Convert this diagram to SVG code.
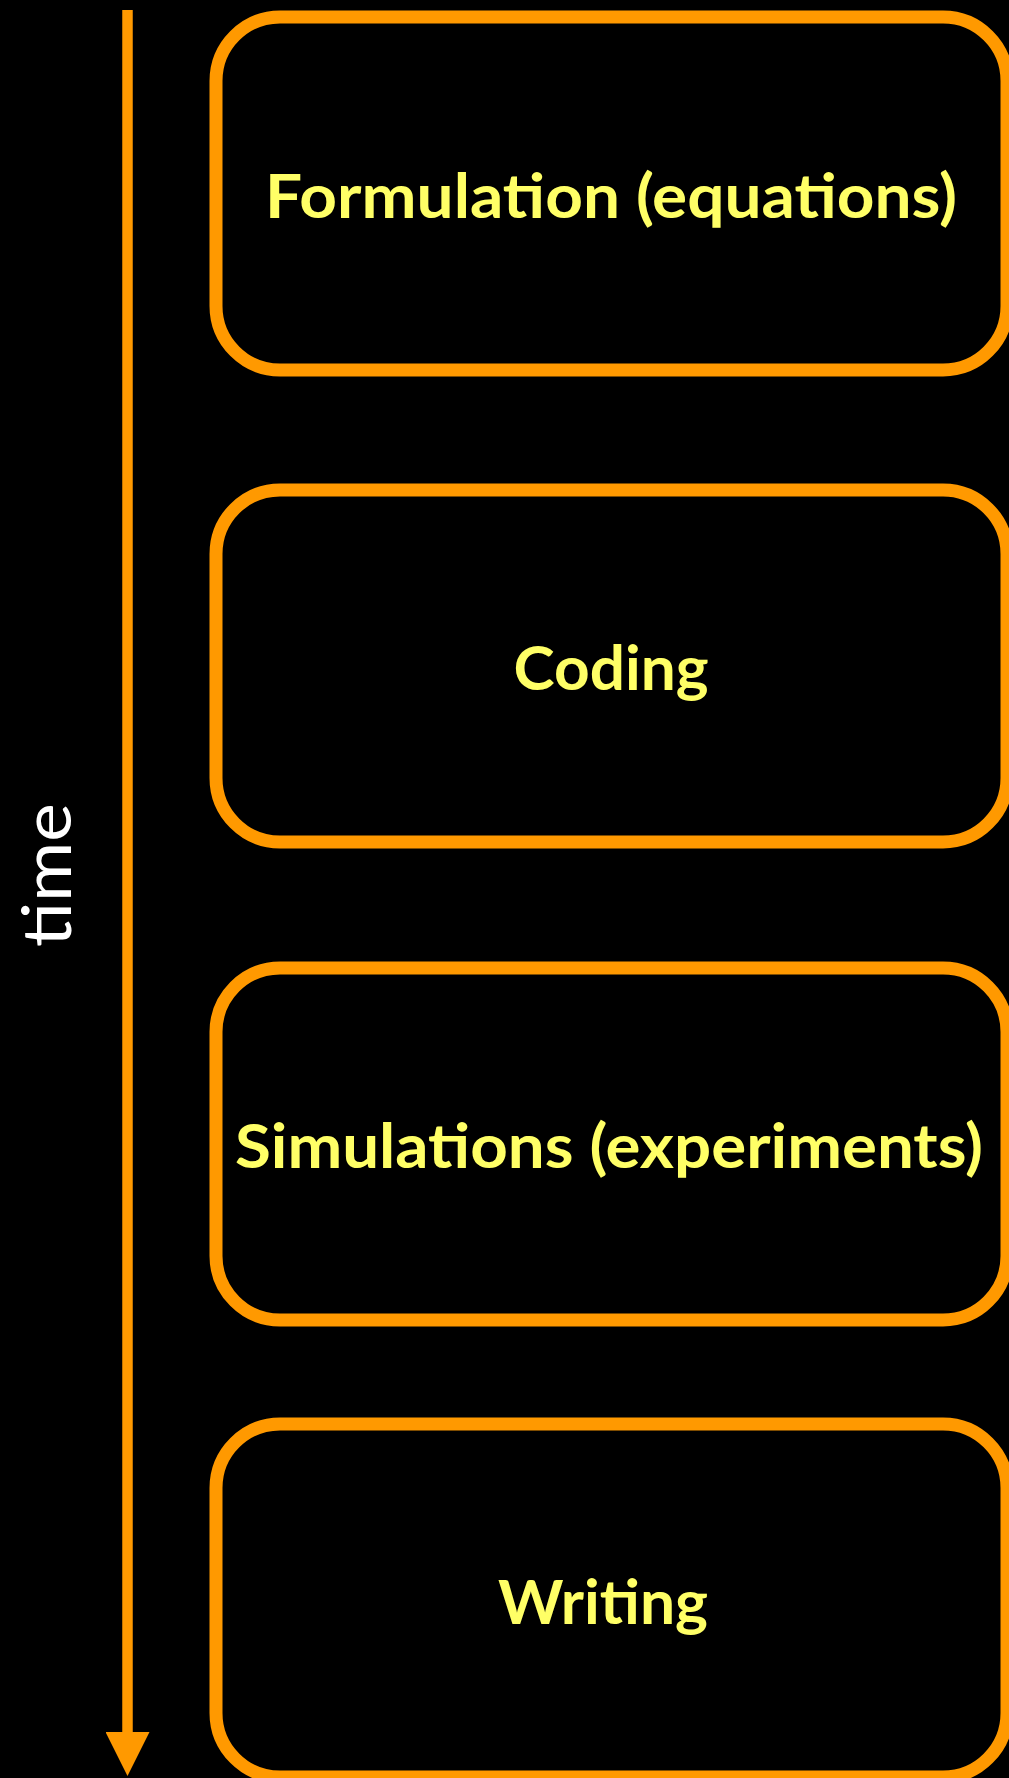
<svg xmlns="http://www.w3.org/2000/svg" width="1009" height="1778" viewBox="0 0 1009 1778">
  <defs>
    <style>
      .stage { fill: #000000; stroke: #FF9900; stroke-width: 13; }
      .label { font-family: Lato, "Liberation Sans", sans-serif; font-weight: bold; font-size: 62px; fill: #FFFF66; text-anchor: middle; }
      .axis { stroke: #FF9900; stroke-width: 10.5; fill: none; }
      .axis-label { font-family: Lato, "Liberation Sans", sans-serif; font-size: 68px; fill: #FFFFFF; text-anchor: middle; }
    </style>
    <marker id="arrowhead" markerUnits="userSpaceOnUse" viewBox="0 0 44 44" markerWidth="44" markerHeight="44" refX="0" refY="22" orient="auto">
      <path d="M0,0 L44,22 L0,44 Z" fill="#FF9900"/>
    </marker>
  </defs>

  <!-- background -->
  <rect x="0" y="0" width="1009" height="1778" fill="#000000"/>

  <!-- time axis -->
  <g id="connectors">
    <line class="axis" x1="127.5" y1="10" x2="127.5" y2="1732" marker-end="url(#arrowhead)"/>
    <text class="axis-label" transform="translate(71,875) rotate(-90)" textLength="144" lengthAdjust="spacingAndGlyphs">time</text>
  </g>

  <!-- stages -->
  <g id="formulation">
    <rect class="stage" x="216" y="17" width="791" height="353" rx="64" ry="64"/>
    <text class="label" x="611" y="218" textLength="692" lengthAdjust="spacingAndGlyphs">Formulation (equations)</text>
  </g>

  <g id="coding">
    <rect class="stage" x="216" y="490" width="791" height="352" rx="64" ry="64"/>
    <text class="label" x="611" y="690" textLength="195" lengthAdjust="spacingAndGlyphs">Coding</text>
  </g>

  <g id="simulations">
    <rect class="stage" x="216" y="968" width="791" height="352" rx="64" ry="64"/>
    <text class="label" x="609" y="1168" textLength="748" lengthAdjust="spacingAndGlyphs">Simulations (experiments)</text>
  </g>

  <g id="writing">
    <rect class="stage" x="216" y="1424" width="791" height="353" rx="64" ry="64"/>
    <text class="label" x="603" y="1624" textLength="210" lengthAdjust="spacingAndGlyphs">Writing</text>
  </g>
</svg>
